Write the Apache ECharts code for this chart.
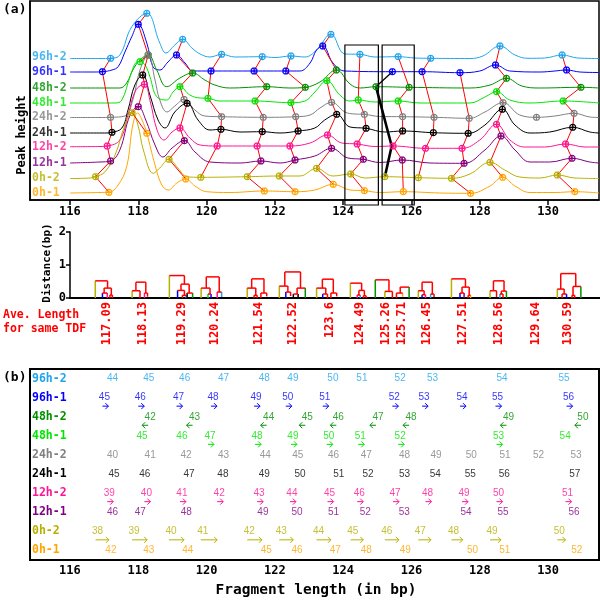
<!DOCTYPE html>
<html>
<head>
<meta charset="utf-8">
<script src="https://cdn.jsdelivr.net/npm/echarts@6/dist/echarts.min.js"></script>
<style>
  html, body { margin: 0; padding: 0; background: #fff; }
  #chart { width: 600px; height: 600px; }
</style>
</head>
<body>
<div id="chart"></div>
<script>
// TDF peak alignment: (a) offset traces, dendrograms, (b) peak numbers

const traceNames = ['96h-2', '96h-1', '48h-2', '48h-1', '24h-2', '24h-1', '12h-2', '12h-1', '0h-2', '0h-1'];
const traceColors = ['#1ea5ee', '#0000ff', '#009000', '#00e600', '#808080', '#000000', '#ff1493', '#800080', '#b8b000', '#ffa500'];
const traceBaselines = [142.5, 128, 112, 97, 82.5, 67, 53.3, 37, 21.7, 7.3];
const tickValues = [116, 118, 120, 122, 124, 126, 128, 130];

// traces: [fragment length (bp), offset peak height]
const curve96h2 = [[116.00,141.5],[116.88,141.5],[117.19,141.7],[117.46,145],[117.81,173.3],[118.25,186.7],[118.63,157],[118.81,147],[119.07,155],[119.30,160.7],[119.57,152],[119.81,146],[120.10,143],[120.44,145.7],[120.83,143],[121.63,143.3],[122.00,142.5],[122.47,144],[122.88,143],[123.22,150],[123.64,165.7],[124.05,146],[124.49,145.7],[124.93,143],[125.61,143.3],[126.10,142],[126.56,141.7],[127.71,141.5],[128.09,144],[128.59,154],[129.03,145],[129.41,141.7],[129.90,142],[130.41,145],[130.87,142],[131.49,141.5]];
const curve96h1 = [[116.00,128],[116.73,128],[116.95,128.3],[117.23,130],[117.41,133.3],[117.61,148],[117.81,163.3],[118.00,175.7],[118.25,157],[118.43,133.3],[118.63,130],[118.87,138],[119.12,145],[119.37,137],[119.60,129],[120.13,129],[121.39,129],[122.32,129],[122.73,129],[123.03,137],[123.22,150],[123.40,154],[123.70,137],[124.05,129],[125.44,128.3],[126.31,128.3],[127.42,127.3],[128.00,129],[128.46,135],[128.88,129],[129.76,128],[130.20,129],[130.54,130],[130.93,128],[131.49,127.5]];
const curve48h2 = [[116.00,112],[117.46,112],[117.66,117],[117.84,130],[118.05,140],[118.29,145],[118.54,130],[118.83,113.3],[119.22,122],[119.59,127],[119.95,120],[120.24,115],[120.68,112],[121.76,113.3],[122.44,112],[122.89,112.7],[123.32,118],[123.80,130],[124.20,116],[124.49,112],[124.96,113.3],[125.93,112.7],[127.71,112],[128.30,115],[128.78,121.7],[129.23,114],[129.76,112],[130.96,112.7],[131.49,112]];
const curve48h1 = [[116.00,97],[117.32,97],[117.52,100],[117.76,123.3],[117.96,138],[118.05,138.3],[118.20,135],[118.34,123.3],[118.54,103.3],[118.83,100],[119.02,108],[119.22,113.3],[119.51,105],[119.81,102],[120.04,101.7],[120.39,99],[121.42,99],[122.47,97.3],[122.88,99],[123.17,108],[123.52,119.3],[123.90,105],[124.20,99],[124.44,100],[124.93,98],[125.61,99],[126.25,97],[127.71,97],[128.15,103],[128.49,108.3],[128.88,100],[129.47,97],[130.44,99],[131.49,97]];
const curve24h2 = [[116.00,82.5],[116.88,82.5],[117.19,82.7],[117.61,84],[117.84,100],[118.05,130],[118.29,145],[118.49,120],[118.63,100],[118.84,88],[119.07,94],[119.34,100.5],[119.66,90],[119.95,84],[120.44,83.3],[121.66,82.7],[122.61,83.3],[123.03,85],[123.32,92],[123.66,97.7],[124.05,88],[124.34,86],[124.62,85.7],[125.07,83.5],[125.74,83.3],[126.66,82.7],[127.69,81.7],[128.15,88],[128.68,97.3],[129.17,85],[129.66,82.7],[130.20,84],[130.76,86.7],[131.22,83],[131.49,82.5]];
const curve24h1 = [[116.00,67],[117.02,67],[117.23,67.7],[117.52,72],[117.70,90],[117.90,115],[118.13,125],[118.34,105],[118.58,80],[118.78,72],[119.07,88],[119.43,96.7],[119.75,80],[120.10,70],[120.42,70.7],[120.98,68],[121.63,68.3],[122.15,67],[122.68,69],[123.17,72],[123.46,80],[123.81,85.7],[124.20,73],[124.67,71.7],[125.22,68],[125.74,69],[126.64,67.3],[127.66,66.7],[128.15,75],[128.66,90.7],[129.03,75],[129.47,67],[130.05,68],[130.72,72.7],[131.22,68],[131.49,67]];
const curve12h2 = [[116.00,53.3],[116.88,53.5],[117.09,54],[117.46,60],[117.70,85],[117.93,110],[118.18,115.7],[118.34,100],[118.55,70],[118.75,60],[118.99,68],[119.22,72],[119.51,62],[119.81,55],[120.31,54],[121.48,54],[122.44,54],[123.03,57],[123.54,65],[123.96,57],[124.41,56],[124.93,53.5],[125.46,54],[126.41,51.7],[127.48,51.7],[128.00,60],[128.49,75.7],[128.88,60],[129.32,53],[129.90,53],[130.51,56],[131.08,53],[131.49,53]];
const curve12h1 = [[116.00,37],[116.88,38],[117.19,39],[117.46,50],[117.76,85],[118.00,93.3],[118.22,80],[118.49,55],[118.72,43],[118.99,52],[119.35,59.3],[119.66,48],[120.10,38],[120.98,37],[121.59,39],[122.15,37],[122.59,40],[123.17,44],[123.66,51.7],[124.14,42],[124.59,40.7],[125.07,37.5],[125.73,40],[126.54,37],[127.54,36.7],[128.15,50],[128.62,64],[129.03,50],[129.47,38],[130.05,38],[130.70,41.7],[131.22,38],[131.49,37]];
const curve0h2 = [[116.00,21.5],[116.59,22],[116.75,23.3],[117.02,28],[117.32,45],[117.61,75],[117.82,87.3],[117.99,75],[118.15,50],[118.44,26.7],[118.63,32],[118.90,40.7],[119.16,32],[119.42,23.3],[119.83,22.7],[121.19,23.3],[122.13,24],[122.73,24],[123.22,31.7],[123.70,24],[124.22,26],[124.64,22],[125.22,23.3],[126.20,22.3],[127.17,21.7],[127.71,26],[128.30,37.7],[128.73,30],[129.17,23],[129.76,22],[130.27,25],[130.78,22],[131.49,21.5]];
const curve0h1 = [[116.00,7],[116.88,7.5],[117.14,7.7],[117.41,15],[117.66,33.3],[117.84,75],[117.98,87],[118.11,80],[118.25,66.7],[118.49,35],[118.69,15],[118.88,10],[119.13,17],[119.39,21],[119.66,14],[120.00,8.3],[120.68,7.5],[121.69,9],[122.59,8.3],[123.17,10],[123.71,15.7],[124.20,10],[124.62,9.3],[125.07,7.5],[125.76,8.3],[126.83,7],[127.73,6.7],[128.30,14],[128.67,22.7],[129.03,14],[129.47,7.5],[130.20,7.5],[130.78,8.3],[131.49,7]];

// detected peaks: [bp, offset height, peak number]
const peaks96h2 = [[117.19,141.7,44],[118.25,186.7,45],[119.30,160.7,46],[120.44,145.7,47],[121.63,143.3,48],[122.47,144,49],[123.64,165.7,50],[124.49,145.7,51],[125.61,143.3,52],[126.56,141.7,53],[128.59,154,54],[130.41,145,55]];
const peaks96h1 = [[116.95,128.3,45],[118.00,175.7,46],[119.12,145,47],[120.13,129,48],[121.39,129,49],[122.32,129,50],[123.40,154,51],[125.44,128.3,52],[126.31,128.3,53],[127.42,127.3,54],[128.46,135,55],[130.54,130,56]];
const peaks48h2 = [[118.29,145,42],[119.59,127,43],[121.76,113.3,44],[122.89,112.7,45],[123.80,130,46],[124.96,113.3,47],[125.93,112.7,48],[128.78,121.7,49],[130.96,112.7,50]];
const peaks48h1 = [[118.05,138.3,45],[119.22,113.3,46],[120.04,101.7,47],[121.42,99,48],[122.47,97.3,49],[123.52,119.3,50],[124.44,100,51],[125.61,99,52],[128.49,108.3,53],[130.44,99,54]];
const peaks24h2 = [[117.19,82.7,40],[118.29,145,41],[119.34,100.5,42],[120.44,83.3,43],[121.66,82.7,44],[122.61,83.3,45],[123.66,97.7,46],[124.62,85.7,47],[125.74,83.3,48],[126.66,82.7,49],[127.69,81.7,50],[128.68,97.3,51],[129.66,82.7,52],[130.76,86.7,53]];
const peaks24h1 = [[117.23,67.7,45],[118.13,125,46],[119.43,96.7,47],[120.42,70.7,48],[121.63,68.3,49],[122.68,69,50],[123.81,85.7,51],[124.67,71.7,52],[125.74,69,53],[126.64,67.3,54],[127.66,66.7,55],[128.66,90.7,56],[130.72,72.7,57]];
const peaks12h2 = [[117.09,54,39],[118.18,115.7,40],[119.22,72,41],[120.31,54,42],[121.48,54,43],[122.44,54,44],[123.54,65,45],[124.41,56,46],[125.46,54,47],[126.41,51.7,48],[127.48,51.7,49],[128.49,75.7,50],[130.51,56,51]];
const peaks12h1 = [[117.19,39,46],[118.00,93.3,47],[119.35,59.3,48],[121.59,39,49],[122.59,40,50],[123.66,51.7,51],[124.59,40.7,52],[125.73,40,53],[127.54,36.7,54],[128.62,64,55],[130.70,41.7,56]];
const peaks0h2 = [[116.75,23.3,38],[117.82,87.3,39],[118.90,40.7,40],[119.83,22.7,41],[121.19,23.3,42],[122.13,24,43],[123.22,31.7,44],[124.22,26,45],[125.22,23.3,46],[126.20,22.3,47],[127.17,21.7,48],[128.30,37.7,49],[130.27,25,50]];
const peaks0h1 = [[117.14,7.7,42],[118.25,66.7,43],[119.39,21,44],[121.69,9,45],[122.59,8.3,46],[123.71,15.7,47],[124.62,9.3,48],[125.76,8.3,49],[127.73,6.7,50],[128.67,22.7,51],[130.78,8.3,52]];

// same-TDF groups: mean length, and peak number per trace (null = absent)
const groupMeans = [117.09, 118.13, 119.29, 120.24, 121.54, 122.52, 123.6, 124.49, 125.26, 125.71, 126.45, 127.51, 128.56, 129.64, 130.59];
const groupPeaks = [
  [44, 45, null, null, 40, 45, 39, 46, 38, 42],
  [45, 46, 42, 45, 41, 46, 40, 47, 39, 43],
  [46, 47, 43, 46, 42, 47, 41, 48, 40, 44],
  [47, 48, null, 47, 43, 48, 42, null, 41, null],
  [48, 49, 44, 48, 44, 49, 43, 49, 42, 45],
  [49, 50, 45, 49, 45, 50, 44, 50, 43, 46],
  [50, 51, 46, 50, 46, 51, 45, 51, 44, 47],
  [51, null, null, 51, 47, 52, 46, 52, 45, 48],
  [null, 52, 47, null, null, null, null, null, 46, null],
  [52, null, 48, 52, 48, 53, 47, 53, null, 49],
  [53, 53, null, null, 49, 54, 48, null, 47, null],
  [null, 54, null, null, 50, 55, 49, 54, 48, 50],
  [54, 55, 49, 53, 51, 56, 50, 55, 49, 51],
  [null, null, null, null, 52, null, null, null, null, null],
  [55, 56, 50, 54, 53, 57, 51, 56, 50, 52]
];
// hand-drawn black link of the 125.26 group
const blackLinkThin = [[125.44,128.3],[124.96,113.3]];
const blackLinkThick = [[124.96,113.3],[125.42,54],[125.22,23.3]];
// boxes round the 124.49 and 125.26/125.71 groups: [x0, x1, yBottom, yTop]
const selectBoxes = [[124.05, 125.03, -5, 155], [125.14, 126.08, -5, 155]];

// dendrogram links: [left x, right x, height, left leg bottom, right leg bottom]
const dendroLinks = [
  [116.74,117.10,0.52,0,0.30],[117.00,117.21,0.30,0.15,0.09],[116.95,117.09,0.15,0,0],[117.17,117.24,0.09,0,0],
  [117.93,118.22,0.48,0.22,0.15],[117.82,118.05,0.22,0,0],[118.18,118.27,0.15,0,0.04],
  [118.91,119.35,0.68,0,0.42],[119.25,119.49,0.42,0.23,0.15],[119.15,119.35,0.23,0,0.08],[119.29,119.40,0.08,0,0],[119.43,119.59,0.15,0,0],
  [119.99,120.37,0.64,0.30,0.18],[119.84,120.10,0.30,0,0.12],[120.04,120.13,0.12,0,0],[120.31,120.44,0.18,0,0.03],
  [121.32,121.68,0.58,0.30,0.15],[121.19,121.44,0.30,0,0.08],[121.39,121.48,0.08,0,0],[121.59,121.76,0.15,0,0.05],
  [122.29,122.75,0.79,0.36,0.30],[122.13,122.38,0.36,0,0.18],[122.32,122.46,0.18,0,0.06],[122.65,122.89,0.30,0.12,0],[122.54,122.68,0.12,0,0],
  [123.39,123.71,0.57,0.30,0.15],[123.22,123.49,0.30,0,0.12],[123.40,123.54,0.12,0,0],[123.64,123.81,0.15,0,0.05],
  [124.21,124.54,0.45,0,0.23],[124.46,124.62,0.23,0.09,0.07],[124.41,124.50,0.09,0,0],[124.59,124.67,0.07,0,0],
  [124.94,125.34,0.55,0,0.20],[125.22,125.44,0.20,0,0],
  [125.67,125.93,0.33,0.15,0],[125.56,125.74,0.15,0,0.04],
  [126.31,126.61,0.48,0.22,0.12],[126.20,126.37,0.22,0,0.10],[126.31,126.41,0.10,0,0],[126.56,126.66,0.12,0,0.03],
  [127.17,127.58,0.58,0,0.33],[127.48,127.69,0.33,0.15,0.08],[127.42,127.54,0.15,0,0],[127.66,127.73,0.08,0,0],
  [128.40,128.71,0.52,0.22,0.21],[128.30,128.49,0.22,0,0.03],[128.63,128.78,0.21,0.12,0],[128.59,128.68,0.12,0,0],
  [130.37,130.81,0.74,0.27,0.35],[130.27,130.47,0.27,0,0.12],[130.41,130.54,0.12,0,0],[130.73,130.96,0.35,0.08,0],[130.70,130.78,0.08,0,0]
];
const dendroLegs = [
  ['0h-2','red'],['red','red'],['96h-1','12h-2'],['red','red'],
  ['red','red'],['0h-2','red'],['12h-2','red'],
  ['0h-2','red'],['red','red'],['96h-1','red'],['red','96h-2'],['24h-1','48h-2'],
  ['red','red'],['0h-2','red'],['48h-1','96h-1'],['12h-2','96h-2'],
  ['red','red'],['0h-2','red'],['red','red'],['red','red'],
  ['red','red'],['0h-2','red'],['96h-1','red'],['red','48h-2'],['24h-1','24h-1'],
  ['red','red'],['0h-2','red'],['96h-1','red'],['red','red'],
  ['0h-2','red'],['red','red'],['12h-2','96h-2'],['red','red'],
  ['48h-2','red'],['0h-2','red'],
  ['red','48h-2'],['red','0h-1'],
  ['red','red'],['0h-2','red'],['96h-1','12h-2'],['96h-2','red'],
  ['0h-2','red'],['red','red'],['96h-1','12h-1'],['red','0h-1'],
  ['red','red'],['0h-2','red'],['red','48h-2'],['96h-2','red'],
  ['red','red'],['0h-2','red'],['red','96h-1'],['red','48h-2'],['red','red']
];

// panel (b) shift arrows
const rightArrows96h1 = [45, 46, 47, 48, 49, 50, 51, 52, 53, 54, 55, 56];
const leftArrows48h2 = [42, 43, 44, 45, 46, 47, 48, 49, 50];
const rightArrows48h1 = [47, 48, 49, 50, 51, 52, 53];
const rightArrows12h2 = [39, 40, 41, 42, 43, 44, 45, 46, 47, 48, 49, 50, 51];
const arrowEnds0h2 = [117.14, 118.26, 119.34, 120.31, 121.62, 122.54, 123.64, 124.59, 125.63, 126.57, 127.50, 128.62, 130.51];

const curves = [curve96h2, curve96h1, curve48h2, curve48h1, curve24h2, curve24h1, curve12h2, curve12h1, curve0h2, curve0h1];
const peaks = [peaks96h2, peaks96h1, peaks48h2, peaks48h1, peaks24h2, peaks24h1, peaks12h2, peaks12h1, peaks0h2, peaks0h1];

const mono = '"DejaVu Sans Mono", monospace';
const RED = '#ff0000';
const markerPath = 'path://M3,1L7,1L9,3L9,7L7,9L3,9L1,7L1,3ZM5,0L5,10M0,5L10,5';

function findPeak(t, num) {
    return peaks[t].find(p => p[2] === num);
}

function legColor(key) {
    const i = traceNames.indexOf(key);
    return i >= 0 ? traceColors[i] : RED;
}

// arrow rows: [start bp, row, direction, end bp (0 = short)]
const arrowData = [];
function addShort(t, list, dir) {
    list.forEach(n => arrowData.push([findPeak(t, n)[0], t, dir, 0]));
}
addShort(1, rightArrows96h1, 1);
addShort(2, leftArrows48h2, -1);
addShort(3, rightArrows48h1, 1);
addShort(6, rightArrows12h2, 1);
peaks0h2.forEach((p, k) => arrowData.push([p[0], 8, 1, arrowEnds0h2[k]]));

const chart = echarts.init(document.getElementById('chart'));
const series = [];

curves.forEach((c, i) => {
    series.push({
        type: 'line', xAxisIndex: 0, yAxisIndex: 0, data: c,
        smooth: 0.4, symbol: 'none', silent: true, z: 2,
        lineStyle: { color: traceColors[i], width: 1 }
    });
});

groupPeaks.forEach((row, g) => {
    const pts = [];
    row.forEach((n, t) => { if (n !== null) pts.push(findPeak(t, n).slice(0, 2)); });
    if (pts.length < 2 || g === 8) return;
    series.push({
        type: 'line', xAxisIndex: 0, yAxisIndex: 0, data: pts,
        symbol: 'none', silent: true, z: 3,
        lineStyle: { color: RED, width: 1 }
    });
});

series.push({
    type: 'line', xAxisIndex: 0, yAxisIndex: 0, data: blackLinkThin,
    symbol: 'none', silent: true, z: 3,
    lineStyle: { color: '#000', width: 1.3 }
});
series.push({
    type: 'line', xAxisIndex: 0, yAxisIndex: 0, data: blackLinkThick,
    symbol: 'none', silent: true, z: 3,
    lineStyle: { color: '#000', width: 2.6 }
});

peaks.forEach((list, i) => {
    series.push({
        type: 'scatter', xAxisIndex: 0, yAxisIndex: 0,
        data: list.map(p => [p[0], p[1]]),
        symbol: markerPath, symbolSize: 7, silent: true, z: 4,
        itemStyle: { color: 'rgba(0,0,0,0)', borderColor: traceColors[i], borderWidth: 1.2, opacity: 1 }
    });
});

// trace names inside panel (a)
series.push({
    type: 'scatter', xAxisIndex: 0, yAxisIndex: 0, symbolSize: 0, silent: true, z: 5,
    data: traceNames.map((n, i) => ({
        value: [114.89, traceBaselines[i]],
        label: { color: traceColors[i] }
    })),
    label: {
        show: true, position: 'right', distance: 0,
        formatter: p => traceNames[p.dataIndex],
        fontFamily: mono, fontWeight: 'bold', fontSize: 11.5
    }
});

series.push({
    type: 'custom', xAxisIndex: 0, yAxisIndex: 0, data: selectBoxes, clip: false, silent: true, z: 6,
    encode: { x: [0, 1], y: [2, 3] },
    renderItem: (params, api) => {
        const a = api.coord([api.value(0), api.value(3)]);
        const b = api.coord([api.value(1), api.value(2)]);
        return {
            type: 'rect',
            shape: { x: a[0], y: a[1], width: b[0] - a[0], height: b[1] - a[1] },
            style: { fill: 'none', stroke: '#000', lineWidth: 1.2 }
        };
    }
});

series.push({
    type: 'custom', xAxisIndex: 1, yAxisIndex: 1, data: dendroLinks, silent: true, z: 3,
    encode: { x: [0, 1], y: [2] },
    renderItem: (params, api) => {
        const legs = dendroLegs[params.dataIndex];
        const xl = api.value(0), xr = api.value(1), h = api.value(2);
        const a = api.coord([xl, api.value(3)]), b = api.coord([xl, h]);
        const c = api.coord([xr, h]), d = api.coord([xr, api.value(4)]);
        return {
            type: 'group', children: [
                { type: 'line', shape: { x1: a[0], y1: a[1], x2: b[0], y2: b[1] }, style: { stroke: legColor(legs[0]), lineWidth: 1.5 } },
                { type: 'line', shape: { x1: d[0], y1: d[1], x2: c[0], y2: c[1] }, style: { stroke: legColor(legs[1]), lineWidth: 1.5 } },
                { type: 'line', shape: { x1: b[0], y1: b[1], x2: c[0], y2: c[1] }, style: { stroke: RED, lineWidth: 1.5 } }
            ]
        };
    }
});

peaks.forEach((list, i) => {
    series.push({
        type: 'scatter', xAxisIndex: 2, yAxisIndex: 2, symbolSize: 0, silent: true, z: 4,
        data: list.map(p => [p[0], i, p[2]]),
        label: {
            show: true, position: 'inside', offset: [2, 0],
            formatter: p => p.value[2],
            color: traceColors[i], fontFamily: '"Liberation Sans", Arial, sans-serif', fontSize: 10
        }
    });
});

series.push({
    type: 'custom', xAxisIndex: 2, yAxisIndex: 2, data: arrowData, silent: true, z: 4,
    encode: { x: 0, y: 1 },
    renderItem: (params, api) => {
        const row = api.value(1), dir = api.value(2), xEnd = api.value(3);
        const p0 = api.coord([api.value(0), row]);
        const y = p0[1] + 8.5;
        const xs = p0[0];
        const xe = xEnd > 0 ? api.coord([xEnd, row])[0] : xs + dir * 6;
        const d = xe > xs ? 1 : -1;
        const color = traceColors[row];
        return {
            type: 'group', children: [
                { type: 'line', shape: { x1: xs, y1: y, x2: xe, y2: y }, style: { stroke: color, lineWidth: 1 } },
                { type: 'polyline', shape: { points: [[xe - d * 3, y - 3], [xe, y], [xe - d * 3, y + 3]] }, style: { stroke: color, fill: 'none', lineWidth: 1 } }
            ]
        };
    }
});

const blackLine = { color: '#000', width: 1.5 };
const tickLabel = { color: '#000', fontFamily: mono, fontWeight: 'bold', fontSize: 12 };

const option = {
    animation: false,
    grid: [
        { left: 30, top: 1, width: 569, height: 199, show: true, borderColor: '#000', borderWidth: 1.5 },
        { left: 70, top: 232, width: 530, height: 66 },
        { left: 30, top: 369, width: 569, height: 191, show: true, borderColor: '#000', borderWidth: 2 }
    ],
    xAxis: [
        {
            gridIndex: 0, type: 'value', min: 114.83, max: 131.49,
            axisLine: { lineStyle: blackLine },
            axisTick: { customValues: tickValues, length: 5, lineStyle: blackLine },
            axisLabel: Object.assign({ customValues: tickValues, margin: 6 }, tickLabel),
            splitLine: { show: false }
        },
        {
            gridIndex: 1, type: 'value', min: 116, max: 131.52,
            axisLine: { lineStyle: { color: '#000', width: 2 } },
            axisTick: { show: false },
            axisLabel: {
                customValues: groupMeans, rotate: 90, margin: 4, formatter: v => String(v),
                color: RED, fontFamily: mono, fontWeight: 'bold', fontSize: 12
            },
            splitLine: { show: false }
        },
        {
            gridIndex: 2, type: 'value', min: 114.83, max: 131.49,
            axisLine: { lineStyle: blackLine },
            axisTick: { customValues: tickValues, length: 5, lineStyle: blackLine },
            axisLabel: Object.assign({ customValues: tickValues, margin: 5 }, tickLabel),
            splitLine: { show: false }
        }
    ],
    yAxis: [
        {
            gridIndex: 0, type: 'value', min: 0, max: 199,
            axisLine: { show: true, lineStyle: blackLine },
            axisTick: { show: false }, axisLabel: { show: false }, splitLine: { show: false }
        },
        {
            gridIndex: 1, type: 'value', min: 0, max: 2, interval: 1,
            axisLine: { show: true, lineStyle: blackLine },
            axisTick: { show: true, length: 4, lineStyle: blackLine },
            axisLabel: Object.assign({ margin: 4 }, tickLabel),
            splitLine: { show: false }
        },
        {
            gridIndex: 2, type: 'category', inverse: true, data: traceNames,
            axisLine: { show: false }, axisTick: { show: false }, splitLine: { show: false },
            axisLabel: {
                inside: true, margin: 2,
                color: (v, i) => traceColors[i],
                fontFamily: mono, fontWeight: 'bold', fontSize: 11.5
            }
        }
    ],
    graphic: [
        { type: 'text', left: 3, top: 3, style: { text: '(a)', font: 'bold 13px ' + mono, fill: '#000' } },
        { type: 'text', left: 3, top: 371, style: { text: '(b)', font: 'bold 13px ' + mono, fill: '#000' } },
        { type: 'text', x: 22, y: 135, rotation: Math.PI / 2,
          style: { text: 'Peak height', font: 'bold 12px ' + mono, fill: '#000', align: 'center', verticalAlign: 'middle' } },
        { type: 'text', x: 47, y: 263, rotation: Math.PI / 2,
          style: { text: 'Distance(bp)', font: 'bold 11px ' + mono, fill: '#000', align: 'center', verticalAlign: 'middle' } },
        { type: 'text', left: 3, top: 309, style: { text: 'Ave. Length', font: 'bold 11.5px ' + mono, fill: RED } },
        { type: 'text', left: 3, top: 323, style: { text: 'for same TDF', font: 'bold 11.5px ' + mono, fill: RED } },
        { type: 'text', x: 316, y: 590,
          style: { text: 'Fragment length (in bp)', font: 'bold 14.5px ' + mono, fill: '#000', align: 'center', verticalAlign: 'middle' } }
    ],
    series: series
};

chart.setOption(option);
</script>
</body>
</html>
